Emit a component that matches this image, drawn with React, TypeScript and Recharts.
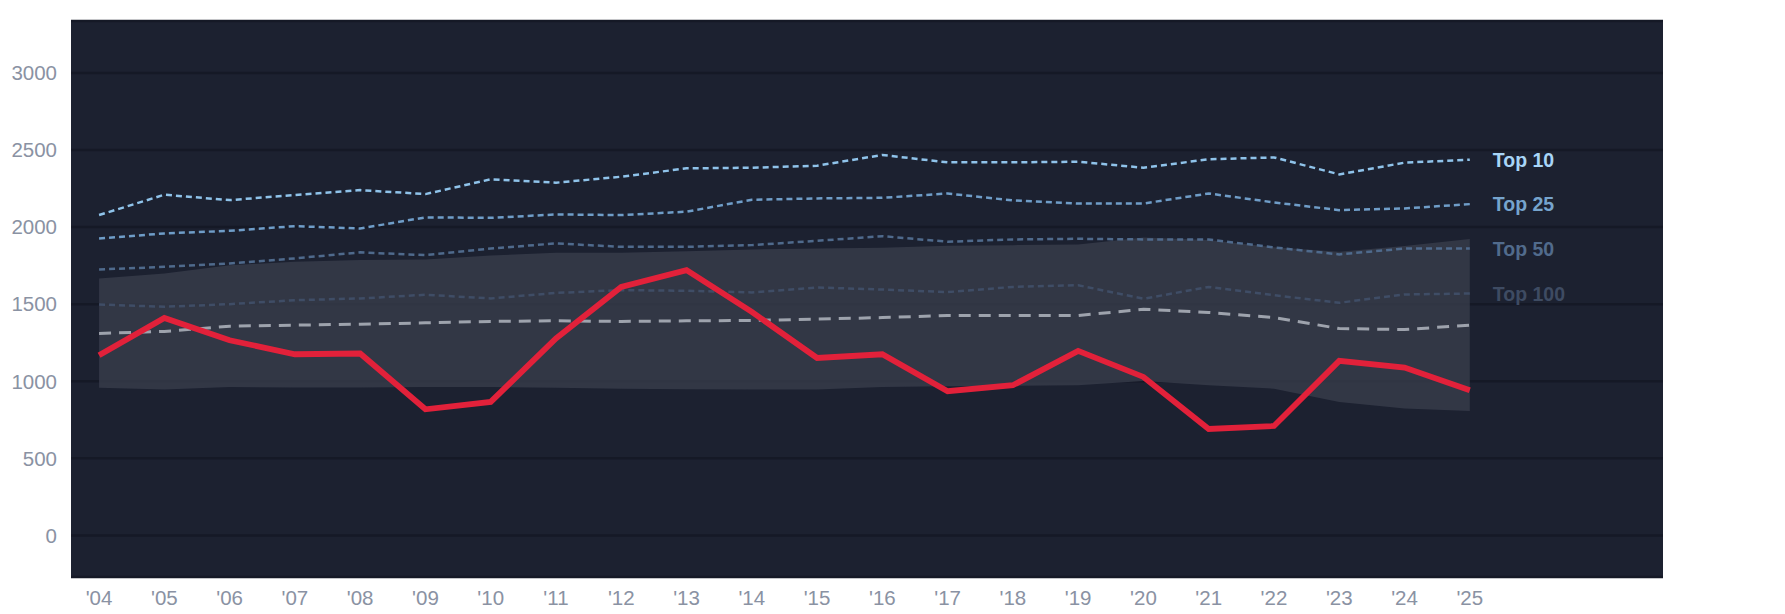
import React from 'react';
import { ComposedChart, Line, Area, XAxis, YAxis, CartesianGrid, LabelList } from 'recharts';

const years = [2004, 2005, 2006, 2007, 2008, 2009, 2010, 2011, 2012, 2013, 2014, 2015, 2016, 2017, 2018, 2019, 2020, 2021, 2022, 2023, 2024, 2025];
const team = [1169, 1411, 1266, 1175, 1180, 818, 866, 1277, 1612, 1721, 1450, 1151, 1175, 935, 974, 1197, 1028, 690, 710, 1132, 1089, 942];
const top10 = [2078, 2210, 2175, 2208, 2240, 2214, 2310, 2288, 2327, 2381, 2385, 2398, 2468, 2420, 2420, 2424, 2385, 2440, 2452, 2342, 2418, 2437];
const top25 = [1926, 1959, 1976, 2006, 1991, 2063, 2060, 2082, 2078, 2100, 2177, 2186, 2190, 2218, 2173, 2153, 2153, 2218, 2160, 2110, 2121, 2149];
const top50 = [1725, 1742, 1764, 1797, 1836, 1818, 1861, 1894, 1872, 1872, 1883, 1911, 1941, 1905, 1920, 1924, 1920, 1920, 1868, 1823, 1861, 1861];
const top100 = [1498, 1483, 1500, 1526, 1537, 1561, 1537, 1573, 1591, 1587, 1576, 1608, 1595, 1578, 1612, 1623, 1535, 1612, 1558, 1509, 1563, 1569];
const median = [1310, 1323, 1357, 1364, 1370, 1379, 1388, 1392, 1388, 1392, 1394, 1403, 1413, 1426, 1426, 1426, 1467, 1446, 1413, 1342, 1335, 1364];
const bandHigh = [1667, 1699, 1753, 1775, 1786, 1790, 1816, 1833, 1833, 1844, 1855, 1861, 1866, 1879, 1883, 1887, 1933, 1916, 1870, 1840, 1877, 1922];
const bandLow = [957, 946, 963, 959, 959, 963, 963, 957, 952, 948, 946, 946, 963, 968, 970, 974, 1002, 974, 952, 866, 823, 807];
const yTicks = [0, 500, 1000, 1500, 2000, 2500, 3000];

const data = years.map((year, i) => ({
  year,
  team: team[i],
  top10: top10[i],
  top25: top25[i],
  top50: top50[i],
  top100: top100[i],
  median: median[i],
  band: [bandLow[i], bandHigh[i]],
}));

const FONT = '"Liberation Sans", Arial, sans-serif';
const last = years.length - 1;

// only the final point of each tier line gets its name
const endLabel = (text: string, color: string) => (props: any) => {
  if (props.index !== last) return null;
  return (
    <text
      x={props.x + 23}
      y={props.y}
      dominantBaseline="central"
      fill={color}
      fontFamily={FONT}
      fontSize={19.5}
      fontWeight="bold"
    >
      {text}
    </text>
  );
};

const tickStyle = { fill: '#8a92a3', fontSize: 20.5, fontFamily: FONT };

export default function App() {
  return (
    <div style={{ width: 1760, height: 598 }}>
      <ComposedChart
        width={1760}
        height={605}
        data={data}
        margin={{ top: 13, right: 105, bottom: 0, left: 0 }}
      >
        <CartesianGrid vertical={false} fill="#1c2130" stroke="#151926" strokeWidth={2.5} />
        <XAxis
          dataKey="year"
          type="number"
          domain={[2003.57, 2027.96]}
          ticks={years}
          tickFormatter={(v) => `'${String(v).slice(2)}`}
          axisLine={false}
          tickLine={false}
          tickSize={0}
          tickMargin={13}
          height={36}
          interval={0}
          tick={tickStyle}
        />
        <YAxis
          domain={[-270, 3337]}
          ticks={yTicks}
          axisLine={false}
          tickLine={false}
          tickSize={0}
          tickMargin={14}
          width={63}
          tick={tickStyle}
        />
        <Area
          dataKey="band"
          type="linear"
          stroke="none"
          fill="#373c4a"
          fillOpacity={0.82}
          isAnimationActive={false}
        />
        <Line dataKey="top100" type="linear" stroke="#3f4d66" strokeWidth={2.5} strokeDasharray="6 4" dot={false} isAnimationActive={false}>
          <LabelList dataKey="top100" content={endLabel('Top 100', '#3e4b62')} />
        </Line>
        <Line dataKey="median" type="linear" stroke="#9ea3ad" strokeWidth={3} strokeDasharray="12 8" dot={false} isAnimationActive={false} />
        <Line dataKey="top50" type="linear" stroke="#4f6a8c" strokeWidth={2.5} strokeDasharray="6 4" dot={false} isAnimationActive={false}>
          <LabelList dataKey="top50" content={endLabel('Top 50', '#516b8c')} />
        </Line>
        <Line dataKey="top25" type="linear" stroke="#6f9dc8" strokeWidth={2.5} strokeDasharray="6 4" dot={false} isAnimationActive={false}>
          <LabelList dataKey="top25" content={endLabel('Top 25', '#76a4cd')} />
        </Line>
        <Line dataKey="top10" type="linear" stroke="#8fc3ea" strokeWidth={2.5} strokeDasharray="6 4" dot={false} isAnimationActive={false}>
          <LabelList dataKey="top10" content={endLabel('Top 10', '#a8d5f7')} />
        </Line>
        <Line dataKey="team" type="linear" stroke="#e2213a" strokeWidth={5.8} dot={false} isAnimationActive={false} />
      </ComposedChart>
    </div>
  );
}
